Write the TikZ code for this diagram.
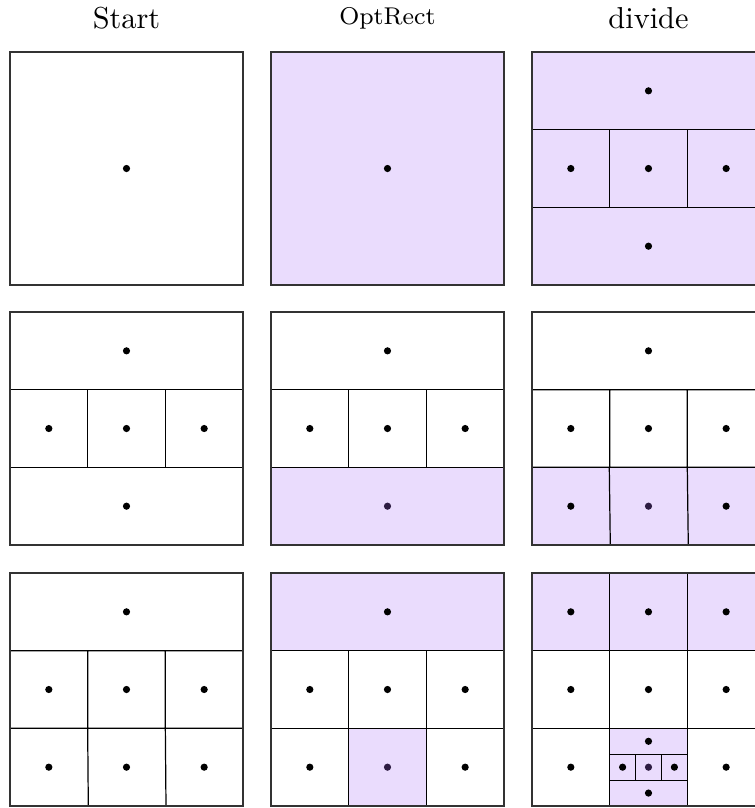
\documentclass[tikz,border=0pt]{standalone}
\definecolor{selfill}{RGB}{234,220,253}
\definecolor{seldot}{RGB}{45,28,66}
\begin{document}
\begin{tikzpicture}[x=0.33pt,y=-0.33pt, line width=0.4pt,
  frame/.style={draw=black!80},
  grid/.style={draw=black},
  selarea/.style={fill=selfill},
  dotb/.style={fill=black},
  dots/.style={fill=seldot},
  title/.style={anchor=base, inner sep=0pt}]
\useasboundingbox (0,0) rectangle (755,808);
\clip (0,0) rectangle (755,808);
\def\t{77.667}\def\tt{155.333}
\def\a{38.83}\def\b{116.5}\def\c{194.17}
\def\r{3.6}
% titles
\node[title] (tStart) at (126.5,28) {Start};
\node[title, font=\footnotesize] (tOpt) at (387.5,24) {OptRect};
\node[title] (tDiv) at (648.5,28) {divide};
% ---------- row 1 ----------
\begin{scope}[shift={(10,52)}]
  \draw[frame] (0,0) rectangle (233,233);
  \fill[dotb] (\b,\b) circle (\r);
\end{scope}
\begin{scope}[shift={(271,52)}]
  \fill[selarea] (0,0) rectangle (233,233);
  \draw[frame] (0,0) rectangle (233,233);
  \fill[dotb] (\b,\b) circle (\r);
\end{scope}
\begin{scope}[shift={(532,52)}]
  \fill[selarea] (0,0) rectangle (233,233);
  \draw[grid] (0,\t) -- (233,\t) (0,\tt) -- (233,\tt)
              (\t,\t) -- (\t,\tt) (\tt,\t) -- (\tt,\tt);
  \draw[frame] (0,0) rectangle (233,233);
  \foreach \p in {(\b,\a),(\a,\b),(\b,\b),(\c,\b),(\b,\c)} \fill[dotb] \p circle (\r);
\end{scope}
% ---------- row 2 ----------
\begin{scope}[shift={(10,312)}]
  \draw[grid] (0,\t) -- (233,\t) (0,\tt) -- (233,\tt)
              (\t,\t) -- (\t,\tt) (\tt,\t) -- (\tt,\tt);
  \draw[frame] (0,0) rectangle (233,233);
  \foreach \p in {(\b,\a),(\a,\b),(\b,\b),(\c,\b),(\b,\c)} \fill[dotb] \p circle (\r);
\end{scope}
\begin{scope}[shift={(271,312)}]
  \fill[selarea] (0,\tt) rectangle (233,233);
  \draw[grid] (0,\t) -- (233,\t) (0,\tt) -- (233,\tt)
              (\t,\t) -- (\t,\tt) (\tt,\t) -- (\tt,\tt);
  \draw[frame] (0,0) rectangle (233,233);
  \foreach \p in {(\b,\a),(\a,\b),(\b,\b),(\c,\b)} \fill[dotb] \p circle (\r);
  \fill[dots] (\b,\c) circle (\r);
\end{scope}
\begin{scope}[shift={(532,312)}]
  \fill[selarea] (0,\tt) rectangle (233,233);
  \draw[grid] (0,\t) -- (233,\t) (0,\tt) -- (233,\tt)
              (\t,\t) -- (\t,\tt) (\tt,\t) -- (\tt,\tt)
              (77.3,\tt) -- (78.3,233) (155.3,\tt) -- (156.3,233);
  \draw[frame] (0,0) rectangle (233,233);
  \foreach \p in {(\b,\a),(\a,\b),(\b,\b),(\c,\b),(\a,\c),(\c,\c)} \fill[dotb] \p circle (\r);
  \fill[dots] (\b,\c) circle (\r);
\end{scope}
% ---------- row 3 ----------
\begin{scope}[shift={(10,573)}]
  \draw[grid] (0,\t) -- (233,\t) (0,\tt) -- (233,\tt)
              (\t,\t) -- (\t,\tt) (\tt,\t) -- (\tt,\tt)
              (\t,\tt) -- (78.3,233) (\tt,\tt) -- (156,233);
  \draw[frame] (0,0) rectangle (233,233);
  \foreach \p in {(\b,\a),(\a,\b),(\b,\b),(\c,\b),(\a,\c),(\b,\c),(\c,\c)} \fill[dotb] \p circle (\r);
\end{scope}
\begin{scope}[shift={(271,573)}]
  \fill[selarea] (0,0) rectangle (233,\t);
  \fill[selarea] (\t,\tt) rectangle (\tt,233);
  \draw[grid] (0,\t) -- (233,\t) (0,\tt) -- (233,\tt)
              (\t,\t) -- (\t,233) (\tt,\t) -- (\tt,233);
  \draw[frame] (0,0) rectangle (233,233);
  \foreach \p in {(\b,\a),(\a,\b),(\b,\b),(\c,\b),(\a,\c),(\c,\c)} \fill[dotb] \p circle (\r);
  \fill[dots] (\b,\c) circle (\r);
\end{scope}
\begin{scope}[shift={(532,573)}]
  \fill[selarea] (0,0) rectangle (233,\t);
  \fill[selarea] (\t,\tt) rectangle (\tt,233);
  \draw[grid] (0,\t) -- (233,\t) (0,\tt) -- (233,\tt)
              (\t,0) -- (\t,233) (\tt,0) -- (\tt,233)
              (\t,181.22) -- (\tt,181.22) (\t,207.11) -- (\tt,207.11)
              (103.56,181.22) -- (103.56,207.11) (129.44,181.22) -- (129.44,207.11);
  \draw[frame] (0,0) rectangle (233,233);
  \foreach \p in {(\a,\a),(\b,\a),(\c,\a),(\a,\b),(\b,\b),(\c,\b),(\a,\c),(\c,\c),
                  (\b,168.28),(90.6,\c),(142.4,\c),(\b,220.06)} \fill[dotb] \p circle (\r);
  \fill[dots] (\b,\c) circle (\r);
\end{scope}
\end{tikzpicture}
\end{document}
